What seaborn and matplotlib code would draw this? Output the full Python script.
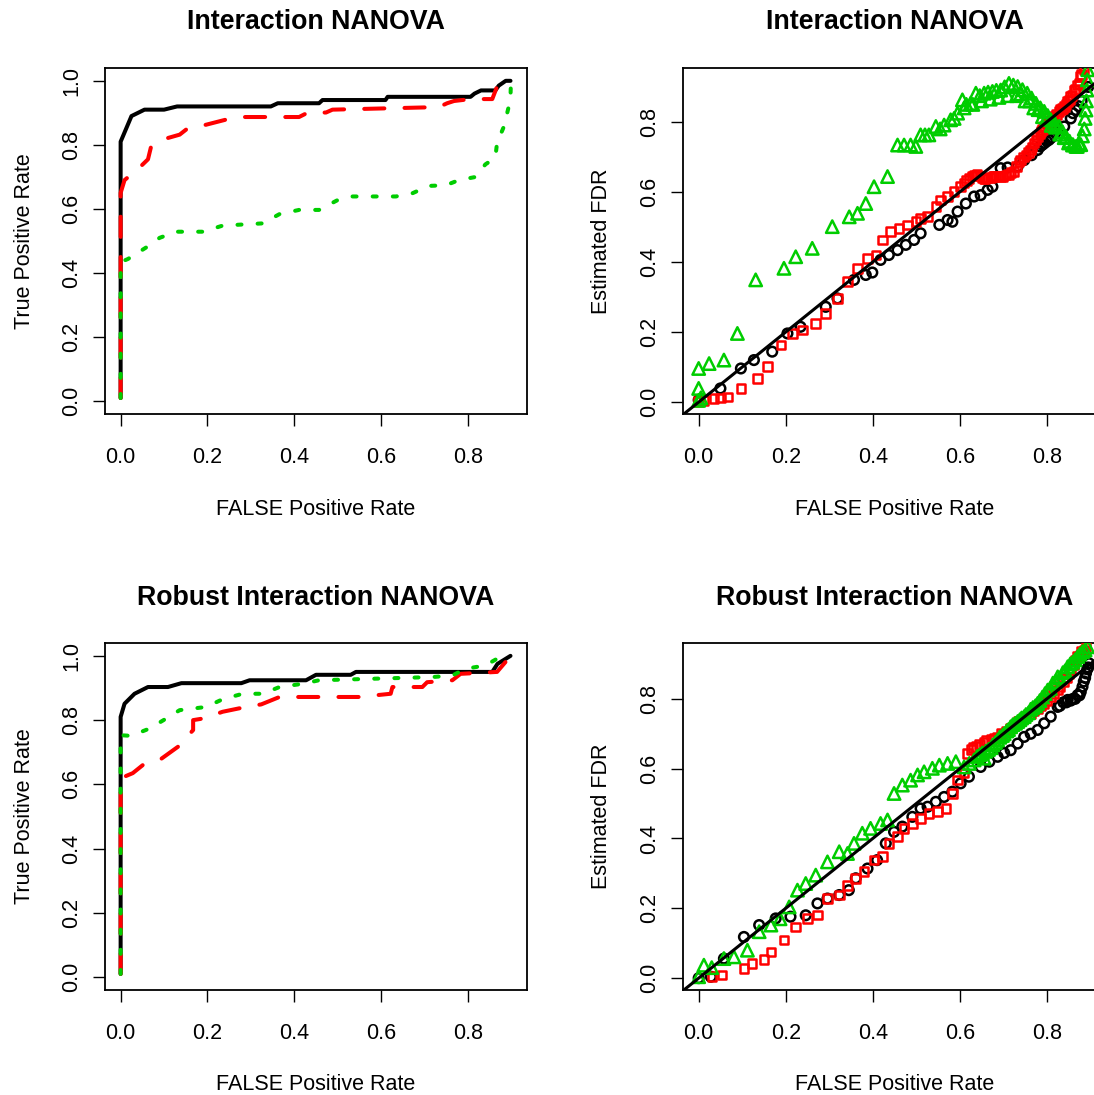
import matplotlib
matplotlib.use("Agg")
import matplotlib.pyplot as plt
import seaborn as sns
import pandas as pd

# ---------------- data ----------------
titles = ["Interaction NANOVA", "Interaction NANOVA",
          "Robust Interaction NANOVA", "Robust Interaction NANOVA"]
xlabel = "FALSE Positive Rate"
ylabel_roc = "True Positive Rate"
ylabel_fdr = "Estimated FDR"
x_ticks = [0.0, 0.2, 0.4, 0.6, 0.8]
roc_y_ticks = [0.0, 0.2, 0.4, 0.6, 0.8, 1.0]
fdr_y_ticks = [0.0, 0.2, 0.4, 0.6, 0.8]

# ROC, top (Interaction NANOVA)
roc1_black_x = [0, 0, 0.025, 0.055, 0.10, 0.13, 0.346, 0.362, 0.457, 0.465, 0.61, 0.615, 0.806, 0.815, 0.83, 0.863, 0.871, 0.887, 0.898]
roc1_black_y = [0.01, 0.81, 0.89, 0.91, 0.91, 0.92, 0.92, 0.93, 0.93, 0.94, 0.94, 0.95, 0.95, 0.96, 0.97, 0.97, 0.985, 1.0, 1.0]
roc1_red_x = [0, 0, 0.009, 0.044, 0.063, 0.07, 0.105, 0.136, 0.151, 0.197, 0.243, 0.285, 0.411, 0.43, 0.473, 0.488, 0.733, 0.752, 0.768, 0.806, 0.856, 0.867, 0.894]
roc1_red_y = [0.01, 0.65, 0.69, 0.73, 0.755, 0.794, 0.82, 0.832, 0.848, 0.863, 0.879, 0.887, 0.887, 0.90, 0.901, 0.91, 0.918, 0.93, 0.937, 0.943, 0.943, 0.982, 1.0]
roc1_green_x = [0, 0, 0.017, 0.059, 0.09, 0.128, 0.189, 0.235, 0.327, 0.366, 0.411, 0.457, 0.503, 0.534, 0.634, 0.672, 0.71, 0.749, 0.779, 0.818, 0.84, 0.863, 0.867, 0.883, 0.894, 0.898, 0.899]
roc1_green_y = [0.01, 0.434, 0.444, 0.48, 0.51, 0.529, 0.529, 0.548, 0.555, 0.584, 0.597, 0.597, 0.63, 0.639, 0.639, 0.649, 0.672, 0.674, 0.69, 0.70, 0.739, 0.76, 0.806, 0.858, 0.92, 0.951, 0.998]

# ROC, bottom (Robust Interaction NANOVA)
roc2_black_x = [0, 0, 0.009, 0.032, 0.063, 0.109, 0.14, 0.278, 0.297, 0.427, 0.45, 0.53, 0.542, 0.856, 0.868, 0.898]
roc2_black_y = [0.01, 0.81, 0.851, 0.882, 0.903, 0.903, 0.915, 0.915, 0.924, 0.924, 0.941, 0.941, 0.95, 0.95, 0.975, 1.0]
roc2_red_x = [0, 0, 0.028, 0.051, 0.093, 0.132, 0.167, 0.167, 0.19, 0.235, 0.278, 0.324, 0.366, 0.549, 0.622, 0.626, 0.695, 0.706, 0.764, 0.783, 0.867, 0.898]
roc2_red_y = [0.01, 0.619, 0.635, 0.66, 0.679, 0.717, 0.769, 0.80, 0.805, 0.826, 0.838, 0.849, 0.872, 0.872, 0.882, 0.903, 0.903, 0.918, 0.924, 0.944, 0.95, 0.999]
roc2_green_x = [0, 0, 0.024, 0.067, 0.105, 0.136, 0.197, 0.235, 0.281, 0.327, 0.366, 0.419, 0.457, 0.718, 0.764, 0.795, 0.84, 0.867, 0.898]
roc2_green_y = [0.01, 0.753, 0.751, 0.774, 0.805, 0.831, 0.841, 0.865, 0.882, 0.882, 0.903, 0.913, 0.924, 0.934, 0.939, 0.96, 0.97, 0.991, 1.0]

# FDR, top
fdr1_black_x = [0, .05, .097, .127, .169, .204, .234, .292, .319, .357, .384, .399, .418, .437, .457, .476, .495, .51, .553, .572, .583, .595, .614, .633, .648, .664, .675, .694, .71, .733, .748, .765, .779, .79, .805, .82, .84, .855, .867, .88, .895,
                .785, .795, .80, .81, .86, .873]
fdr1_black_y = [.006, .039, .096, .12, .144, .196, .215, .272, .296, .349, .363, .37, .406, .42, .434, .449, .463, .482, .506, .52, .515, .544, .567, .587, .591, .606, .615, .668, .67, .673, .691, .705, .72, .735, .749, .77, .787, .81, .834, .86, .9,
                .73, .74, .745, .755, .825, .845]
fdr1_red_x = [0, .012, .035, .05, .066, .097, .135, .158, .189, .215, .238, .269, .292, .319, .342, .365, .388, .407, .422, .441, .46, .48, .499, .51, .526, .545, .556, .572, .587, .602, .621, .637, .656, .67, .679, .69, .698, .712, .725, .74, .752, .763, .771, .779, .787, .794, .805, .817, .828, .84, .848, .855, .863, .871, .878, .885,
              .61, .615, .628, .634, .64, .646, .652, .658, .664, .676, .682, .688, .694, .706, .718, .73, .736, .746, .758, .766, .775, .784, .79, .80, .81, .814, .822, .832, .836, .844, .852, .858, .866, .874, .88]
fdr1_red_y = [.001, .005, .01, .012, .015, .039, .068, .101, .163, .196, .206, .225, .253, .296, .344, .382, .41, .42, .463, .487, .496, .506, .515, .525, .53, .558, .577, .587, .601, .615, .639, .649, .639, .642, .644, .645, .644, .65, .658, .691, .705, .72, .74, .758, .772, .787, .80, .815, .83, .844, .858, .872, .89, .906, .93, .949,
              .625, .632, .645, .648, .65, .645, .64, .638, .64, .644, .645, .645, .644, .648, .655, .672, .685, .70, .712, .728, .748, .765, .778, .795, .805, .812, .822, .835, .838, .85, .862, .875, .892, .91, .935]
fdr1_green_x = [0, .005, 0, 0, .024, .058, .089, .131, .196, .223, .261, .307, .346, .365, .384, .403, .434, .457, .472, .487, .499, .51, .52, .529, .545, .555, .564, .579, .587, .595, .606, .615, .625, .637, .646, .656, .665, .675, .684, .694, .703, .713, .723, .733, .744, .755, .765, .775, .785, .794, .802, .809, .818, .828, .836, .844, .852, .859, .867, .874, .882, .886, .888, .89, .891, .892, .893, .894,
                .74, .76, .78, .80, .82, .84, .61, .63, .65, .67, .69, .71, .73, .75, .77, .79, .81, .83, .85, .86, .87, .878]
fdr1_green_y = [.005, .012, .039, .096, .11, .12, .196, .349, .382, .415, .439, .501, .529, .539, .567, .615, .644, .734, .734, .734, .73, .763, .763, .763, .787, .78, .791, .806, .81, .825, .863, .85, .853, .882, .875, .882, .885, .887, .89, .891, .90, .91, .905, .901, .892, .882, .868, .853, .84, .83, .818, .806, .797, .787, .772, .758, .745, .734, .73, .739, .76, .78, .81, .834, .86, .891, .92, .949,
                .88, .86, .835, .81, .785, .755, .84, .85, .86, .865, .87, .875, .875, .86, .84, .815, .79, .765, .74, .735, .73, .735]

# FDR, bottom
fdr2_black_x = [0, .028, .058, .104, .139, .177, .211, .246, .273, .296, .323, .345, .361, .388, .41, .43, .449, .468, .491, .51, .526, .545, .564, .583, .602, .621, .648, .668, .687, .702, .717, .733, .748, .763, .779, .794, .809, .825, .838, .848, .86, .871, .882, .89, .897,
                .83, .845, .855, .865, .875, .878, .885, .888, .893, .895]
fdr2_black_y = [0, .004, .056, .118, .152, .171, .176, .18, .214, .228, .238, .252, .286, .314, .338, .386, .419, .434, .462, .486, .491, .505, .519, .534, .558, .577, .605, .62, .634, .645, .653, .672, .691, .70, .711, .73, .749, .777, .79, .797, .80, .811, .835, .873, .902,
                .78, .79, .795, .80, .81, .82, .85, .86, .885, .89]
fdr2_red_x = [.031, .054, .104, .123, .15, .166, .196, .223, .25, .273, .296, .323, .342, .361, .38, .403, .422, .437, .457, .472, .491, .51, .529, .549, .568, .583, .595, .61, .618, .627, .637, .656, .672, .687, .706, .725, .744, .763, .779, .794, .81, .825, .838, .851, .861, .871, .88, .89,
              .63, .645, .66, .68, .695, .715, .735, .752, .77, .786, .80, .815, .83, .845, .856, .866, .876, .885]
fdr2_red_y = [.004, .009, .028, .042, .054, .075, .109, .147, .171, .181, .228, .238, .266, .286, .305, .338, .348, .386, .405, .429, .443, .458, .472, .477, .486, .529, .567, .587, .644, .655, .663, .677, .684, .691, .708, .725, .742, .758, .772, .787, .806, .825, .85, .873, .897, .921, .935, .949,
              .66, .67, .68, .687, .70, .715, .735, .75, .765, .78, .795, .815, .835, .86, .885, .91, .925, .94]
fdr2_green_x = [0, .012, .03, .058, .081, .112, .139, .166, .187, .208, .227, .246, .269, .296, .323, .342, .357, .376, .395, .418, .434, .449, .468, .487, .503, .518, .537, .553, .572, .591, .61, .622, .633, .656, .672, .687, .702, .717, .733, .748, .763, .779, .79, .802, .814, .825, .837, .848, .86, .871, .882, .894,
                .64, .646, .652, .66, .666, .676, .682, .692, .698, .708, .712, .722, .728, .738, .742, .752, .758, .768, .774, .784, .796, .808, .82, .83, .842, .854, .865, .876, .888]
fdr2_green_y = [.004, .037, .03, .056, .061, .08, .133, .152, .17, .204, .252, .271, .295, .333, .362, .357, .386, .415, .429, .443, .453, .529, .553, .567, .582, .591, .601, .61, .615, .62, .605, .615, .625, .63, .66, .682, .70, .72, .735, .749, .77, .787, .805, .825, .845, .863, .875, .892, .905, .921, .935, .949,
                .635, .64, .645, .65, .655, .668, .675, .69, .695, .708, .712, .726, .73, .74, .745, .755, .76, .775, .78, .795, .815, .83, .85, .86, .88, .90, .912, .928, .94]

# ---------------- style ----------------
sns.set_style("ticks")
plt.rcParams['font.family'] = ['Liberation Sans', 'DejaVu Sans']
plt.rcParams['text.color'] = 'black'
plt.rcParams['axes.labelcolor'] = 'black'
plt.rcParams['xtick.color'] = 'black'
plt.rcParams['ytick.color'] = 'black'
plt.rcParams['axes.edgecolor'] = 'black'

BLACK, RED, GREEN = "#000000", "#FF0000", "#00CD00"
W, H = 1094, 1095
fig = plt.figure(figsize=(W / 100, H / 100), dpi=100)

def pos(left, top, right, bottom):
    return [left / W, 1 - bottom / H, (right - left) / W, (bottom - top) / H]

ax_tl = fig.add_axes(pos(105, 68, 527, 414))
ax_tr = fig.add_axes(pos(683, 68, 1106, 414))
ax_bl = fig.add_axes(pos(105, 643, 527, 990))
ax_br = fig.add_axes(pos(683, 643, 1106, 990))

TICK_FS = 15.5
LW = 2.9

def style(ax, title, ylab, yticks, ylim, xlab_y, ylab_x, title_y):
    ax.set_xlim(-0.036, 0.936)
    ax.set_ylim(*ylim)
    ax.set_xticks(x_ticks)
    ax.set_xticklabels([f"{v:.1f}" for v in x_ticks])
    ax.set_yticks(yticks)
    ax.set_yticklabels([f"{v:.1f}" for v in yticks])
    for s in ax.spines.values():
        s.set_visible(True)
        s.set_linewidth(1.3)
        s.set_color("black")
    ax.tick_params(axis='both', direction='out', length=8.6, width=1.0,
                   colors='black', labelcolor='black', labelsize=TICK_FS)
    ax.tick_params(axis='x', pad=15.5)
    ax.tick_params(axis='y', pad=8, labelrotation=90)
    plt.setp(ax.get_yticklabels(), va='center')
    ax.set_xlabel(xlabel, fontsize=TICK_FS, va='center', color='black')
    ax.xaxis.set_label_coords(0.5, xlab_y)
    ax.set_ylabel(ylab, fontsize=TICK_FS, va='center', color='black')
    ax.yaxis.set_label_coords(ylab_x, 0.5)
    ax.set_title(title, fontsize=19.3, fontweight='bold', y=title_y, va='center',
                 pad=0, color='black')
    ax.set_facecolor('white')

def roc(ax, bx, by, rx, ry, gx, gy):
    common = dict(sort=False, estimator=None, ax=ax, lw=LW,
                  solid_capstyle='round', dash_capstyle='round', legend=False)
    sns.lineplot(x=bx, y=by, color=BLACK, linestyle='-', **common)
    sns.lineplot(x=rx, y=ry, color=RED, linestyle=(0, (5, 5)), **common)
    sns.lineplot(x=gx, y=gy, color=GREEN, linestyle=(0, (1, 4)), **common)

def fdr(ax, bx, by, rx, ry, gx, gy):
    sns.scatterplot(x=bx, y=by, marker='o', s=48, color=BLACK, facecolor='none',
                    edgecolor=BLACK, linewidth=1.8, ax=ax, legend=False, zorder=2)
    sns.scatterplot(x=rx, y=ry, marker='s', s=38, color=RED, facecolor='none',
                    edgecolor=RED, linewidth=1.8, ax=ax, legend=False, zorder=3)
    sns.scatterplot(x=gx, y=gy, marker='^', s=80, color=GREEN, facecolor='none',
                    edgecolor=GREEN, linewidth=1.8, ax=ax, legend=False, zorder=4)
    ax.axline((0, 0), slope=1, color=BLACK, lw=2.2, zorder=5)

roc(ax_tl, roc1_black_x, roc1_black_y, roc1_red_x, roc1_red_y, roc1_green_x, roc1_green_y)
roc(ax_bl, roc2_black_x, roc2_black_y, roc2_red_x, roc2_red_y, roc2_green_x, roc2_green_y)
fdr(ax_tr, fdr1_black_x, fdr1_black_y, fdr1_red_x, fdr1_red_y, fdr1_green_x, fdr1_green_y)
fdr(ax_br, fdr2_black_x, fdr2_black_y, fdr2_red_x, fdr2_red_y, fdr2_green_x, fdr2_green_y)

style(ax_tl, titles[0], ylabel_roc, roc_y_ticks, (-0.04, 1.04), -0.275, -0.19, 1.133)
style(ax_tr, titles[1], ylabel_fdr, fdr_y_ticks, (-0.034, 0.954), -0.275, -0.192, 1.133)
style(ax_bl, titles[2], ylabel_roc, roc_y_ticks, (-0.04, 1.04), -0.273, -0.19, 1.129)
style(ax_br, titles[3], ylabel_fdr, fdr_y_ticks, (-0.034, 0.96), -0.273, -0.192, 1.129)

fig.patch.set_facecolor('white')
fig.savefig("out.png", dpi=100, facecolor='white')
